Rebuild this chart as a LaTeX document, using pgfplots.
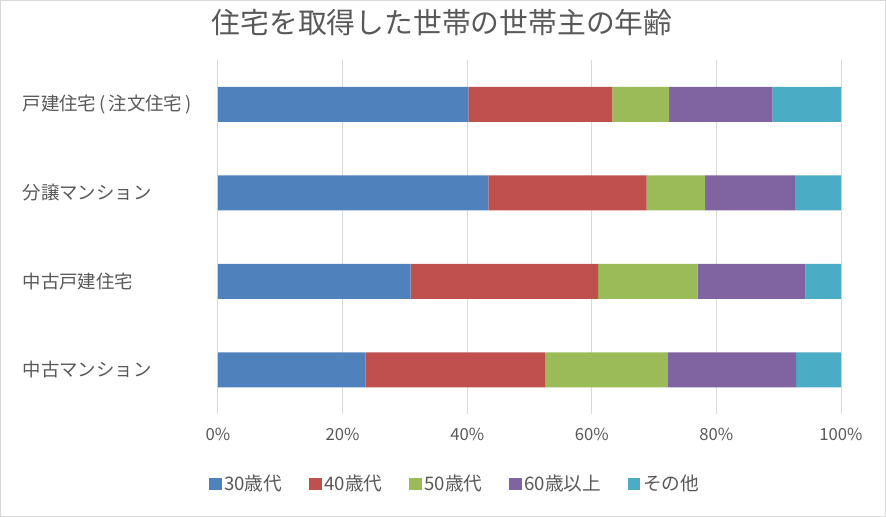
\documentclass[border=0pt]{standalone}
\usepackage{fontspec}
\setmainfont{Noto Sans CJK JP}
\usepackage{pgfplots}
\pgfplotsset{compat=1.18}
\definecolor{c1}{HTML}{4F81BD}
\definecolor{c2}{HTML}{C0504D}
\definecolor{c3}{HTML}{9BBB59}
\definecolor{c4}{HTML}{8064A2}
\definecolor{c5}{HTML}{4BACC6}
\definecolor{txt}{HTML}{595959}
\definecolor{gridc}{HTML}{D9D9D9}
\begin{document}
\begin{tikzpicture}
\path[use as bounding box] (0pt,0pt) rectangle (664.5pt,-387.75pt);
\draw[color=gridc, line width=0.75pt] (0.4pt,-0.4pt) rectangle (664.1pt,-387.35pt);
\node[text=txt, font=\fontsize{21.6}{25}\selectfont] at (331.5pt,-17pt) {住宅を取得した世帯の世帯主の年齢};
\begin{axis}[
  at={(163.5pt,-310.5pt)}, anchor=south west,
  scale only axis, width=467.25pt, height=265.5pt,
  xbar stacked, bar width=26.25pt,
  xmin=0, xmax=100, ymin=-0.5, ymax=3.5, y dir=reverse,
  ytick={0,1,2,3},
  yticklabels={戸建住宅\,(\,注文住宅\,),分譲マンション,中古戸建住宅,中古マンション},
  yticklabel style={anchor=west, xshift=-150pt, text=txt, font=\fontsize{13.8}{15}\selectfont},
  xtick={0,20,40,60,80,100},
  xticklabel={\pgfmathprintnumber{\tick}\%},
  /pgf/number format/assume math mode=true,
  xticklabel style={text=txt, font=\fontsize{12.5}{14}\selectfont, yshift=-7pt},
  xmajorgrids, grid style={gridc, line width=0.75pt},
  axis line style={draw=none}, major tick style={draw=none},
  every axis plot/.append style={draw=none},
  legend columns=5,
  legend style={draw=none, at={(0.381,-0.198)}, anchor=center,
    font=\fontsize{14}{16}\selectfont, text=txt,
    /tikz/every even column/.append style={column sep=18pt}},
  legend cell align=left,
  legend image code/.code={\fill[#1] (0pt,-4.75pt) rectangle (9.5pt,4.75pt);},
]
\addplot[fill=c1] coordinates {(40.2,0) (43.4,1) (30.9,2) (23.7,3)};
\addplot[fill=c2] coordinates {(23.1,0) (25.4,1) (30.1,2) (28.8,3)};
\addplot[fill=c3] coordinates {(9.1,0) (9.4,1) (16.0,2) (19.7,3)};
\addplot[fill=c4] coordinates {(16.6,0) (14.4,1) (17.3,2) (20.6,3)};
\addplot[fill=c5] coordinates {(11.0,0) (7.4,1) (5.7,2) (7.2,3)};
\legend{30歳代,40歳代,50歳代,60歳以上,その他}
\end{axis}
\end{tikzpicture}
\end{document}
